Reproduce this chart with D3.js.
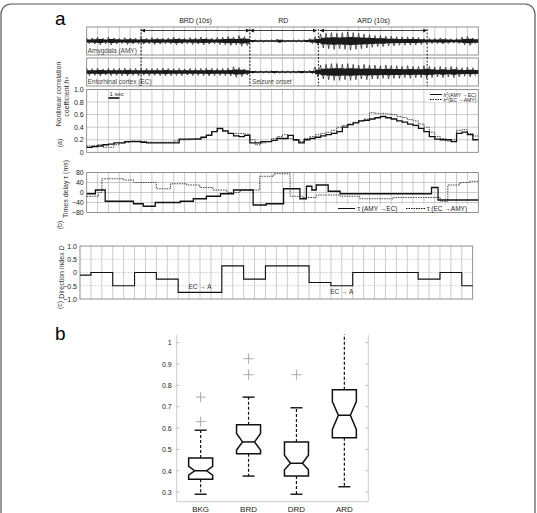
<!DOCTYPE html>
<html>
<head>
<meta charset="utf-8">
<script src="https://cdn.jsdelivr.net/npm/d3@7"></script>
<style>
body { margin: 0; background: #fff; }
svg { display: block; font-family: "Liberation Sans", Arial, sans-serif; }
</style>
</head>
<body>
<div id="chart"></div>
<script>
// ---- data (time in seconds, 0..36) ----
var duration = 36;
var eventTimes = [5, 15, 21.3, 31.3];
var phaseLabels = ["BRD (10s)", "RD", "ARD (10s)"];

// EEG envelope (half amplitude, fraction of trace half height), one value per 0.5 s
var ampAMY = [.2,.22,.28,.2,.28,.22,.18,.25,.22,.2,
  .22,.2,.25,.22,.2,.22,.28,.22,.2,.25,.22,.28,.22,.2,.25,.28,
  .32,.28,.38,.32,
  .1,.08,.08,.06,.08,.14,.08,.06,.08,.08,.1,.18,
  .3,.5,.55,.6,.55,.6,.65,.6,.55,.5,
  .45,.4,.4,.35,.35,.3,.3,.3,.28,.25,
  .18,.18,.18,.22,.18,.16,.18,.28,.32,.22];
var ampEC = [.26,.24,.28,.22,.26,.24,.26,.28,.24,.26,.22,.26,.24,.26,.28,.26,.24,.26,.22,.26,.24,.26,.28,.26,.24,.26,
  .28,.38,.32,.22,
  .1,.08,.08,.08,.1,.08,.08,.08,.08,.1,.08,.12,
  .35,.5,.55,.6,.6,.55,.6,.55,.5,.55,.5,.5,.45,.5,.45,.45,.4,.45,.4,.4,.45,.4,.35,.4,.35,.4,.35,.3,.35,.3];

// nonlinear correlation h2, one value per 0.5 s
var h2AmyEc = [.08,.09,.10,.12,.13,.15,.15,.17,.17,.17,.16,.15,.15,.15,.15,.15,.15,.21,.21,.21,
  .21,.24,.27,.33,.38,.34,.30,.26,.25,.27,.15,.15,.17,.17,.19,.22,.22,.27,.20,.15,
  .20,.22,.24,.26,.28,.30,.33,.40,.44,.47,.50,.51,.53,.55,.57,.55,.53,.50,.48,.45,
  .43,.38,.33,.25,.21,.20,.20,.17,.30,.32,.28,.20];
var h2EcAmy = [.10,.11,.12,.08,.08,.12,.15,.16,.18,.18,.17,.16,.16,.16,.16,.16,.18,.20,.20,.21,
  .22,.23,.28,.33,.37,.33,.30,.30,.30,.29,.20,.12,.15,.17,.22,.25,.28,.22,.19,.17,
  .22,.25,.28,.30,.32,.35,.40,.43,.45,.48,.50,.53,.63,.62,.62,.61,.60,.57,.55,.52,
  .50,.45,.40,.32,.25,.22,.18,.20,.35,.36,.30,.26];

// time delay tau (ms), [start time, value]
var tauAmyEc = [[0,-5],[0.8,10],[1.7,-35],[4.3,-45],[5.2,-55],[6.3,-40],[8.6,-35],[9.8,-25],
  [11,-15],[12.3,-5],[13.5,10],[15.3,-50],[16.5,-45],[18.1,15],[19.6,-25],[20.2,25],[20.7,10],
  [21.1,30],[22.2,5],[23.3,-5],[31.7,20],[32.3,-30]];
var tauEcAmy = [[0,-15],[1.1,0],[1.4,55],[3.4,50],[4.3,40],[6.4,15],[7.7,35],[9.2,30],[10.4,20],
  [11.6,10],[12.9,0],[14.1,10],[15.9,65],[17.2,75],[18.7,-15],[19.9,-20],[21.1,-10],[23.3,-15],
  [25.1,-25],[28.2,-20],[32.5,-35],[33.2,30],[34.3,40],[35.2,45]];

// direction index D, [start time, value]
var dirIndex = [[0,-0.1],[1,0],[3,-0.5],[5,0],[7,-0.25],[9,-0.75],[13,0.25],[15,-0.25],[17,0.25],
  [21,-0.375],[23,-0.5],[25,0],[31,-0.25],[33,0],[35,-0.5]];

// box plot (panel b)
var cats = ["BKG", "BRD", "DRD", "ARD"];
var q1 = [0.36, 0.48, 0.375, 0.555];
var med = [0.40, 0.535, 0.435, 0.66];
var q3 = [0.46, 0.615, 0.535, 0.78];
var notchLo = [0.38, 0.497, 0.405, 0.594];
var notchHi = [0.42, 0.575, 0.473, 0.724];
var whiskLo = [0.29, 0.375, 0.29, 0.325];
var whiskHi = [0.59, 0.745, 0.695, 1.04];
var outliers = [[0.63, 0.745], [0.85, 0.925], [0.85], []];
var boxTicks = [0.3, 0.4, 0.5, 0.6, 0.7, 0.8, 0.9, 1];

// ---- drawing ----
var svg = d3.select("#chart").append("svg").attr("width", 537).attr("height", 513);

svg.append("defs").append("marker")
  .attr("id", "ah").attr("viewBox", "0 0 10 10").attr("refX", 10).attr("refY", 5)
  .attr("markerWidth", 5).attr("markerHeight", 5).attr("orient", "auto-start-reverse")
  .append("path").attr("d", "M0,0L10,5L0,10z").attr("fill", "#111");

// outer frame
svg.append("rect").attr("x", 1).attr("y", 4).attr("width", 534).attr("height", 540)
  .attr("rx", 10).attr("fill", "none").attr("stroke", "#555").attr("stroke-width", 1.2);

svg.append("text").attr("x", 55).attr("y", 25).attr("font-size", 19).text("a");
svg.append("text").attr("x", 55).attr("y", 340).attr("font-size", 19).text("b");

var x = d3.scaleLinear().domain([0, duration]).range([86.7, 478.3]);
var xc = d3.scaleLinear().domain([0, duration]).range([80, 472.7]);
var secs = d3.range(1, duration);

function frame(xs, top, bottom, hLines, yS, dotted) {
  var g = svg.append("g");
  g.selectAll(".v").data(secs).enter().append("line")
    .attr("x1", xs).attr("x2", xs).attr("y1", top).attr("y2", bottom)
    .attr("stroke", "#aaa").attr("stroke-width", 0.6);
  g.selectAll(".h").data(hLines).enter().append("line")
    .attr("x1", xs.range()[0]).attr("x2", xs.range()[1])
    .attr("y1", yS).attr("y2", yS)
    .attr("stroke", "#aaa").attr("stroke-width", 0.6)
    .attr("stroke-dasharray", dotted ? "1.5,1.5" : null);
  g.append("rect").attr("x", xs.range()[0]).attr("y", top)
    .attr("width", xs.range()[1] - xs.range()[0]).attr("height", bottom - top)
    .attr("fill", "none").attr("stroke", "#777").attr("stroke-width", 0.8);
  return g;
}

function steps(pts) {
  return pts.concat([[duration, pts[pts.length - 1][1]]]);
}
function halfSec(arr) {
  return steps(arr.map(function(v, i) { return [i * 0.5, v]; }));
}

// EEG traces, drawn from their envelope
var traces = [
  {name: "Amygdala (AMY)", top: 27, bottom: 55, amp: ampAMY},
  {name: "Entorhinal cortex (EC)", top: 58, bottom: 86, amp: ampEC}
];
traces.forEach(function(tr) {
  frame(x, tr.top, tr.bottom, [], null, false);
  var mid = (tr.top + tr.bottom) / 2, half = (tr.bottom - tr.top) / 2;
  var yT = d3.scaleLinear().domain([-1, 1]).range([mid + half, mid - half]);
  var pts = halfSec(tr.amp);
  svg.append("path").datum(pts)
    .attr("d", d3.area().curve(d3.curveStepAfter)
      .x(function(d) { return x(d[0]); })
      .y0(function(d) { return yT(-d[1] * 0.4) + 0.4; })
      .y1(function(d) { return yT(d[1] * 0.4) - 0.4; }))
    .attr("fill", "#1a1a1a");
  var zig = [];
  tr.amp.forEach(function(a, i) {
    zig.push([i * 0.5, a]);
    zig.push([i * 0.5 + 0.25, -a]);
  });
  svg.append("path").datum(zig)
    .attr("d", d3.line().x(function(d) { return x(d[0]); }).y(function(d) { return yT(d[1]); }))
    .attr("fill", "none").attr("stroke", "#1a1a1a").attr("stroke-width", 0.7);
  svg.append("text").attr("x", x(0) + 1).attr("y", tr.bottom - 2)
    .attr("font-size", 6.5).attr("fill", "#444").text(tr.name);
});
svg.append("text").attr("x", x(15) + 2).attr("y", 84).attr("font-size", 6.5)
  .attr("font-style", "italic").attr("fill", "#444").text("Seizure onset");

// event markers and arrows
svg.selectAll(".ev").data(eventTimes).enter().append("line")
  .attr("x1", x).attr("x2", x).attr("y1", 29).attr("y2", 86)
  .attr("stroke", "#111").attr("stroke-width", 0.9).attr("stroke-dasharray", "2,1.5");
phaseLabels.forEach(function(lab, i) {
  var a = eventTimes[i] + (i === 2 ? 0.15 : 0), b = eventTimes[i + 1] - (i === 1 ? 0.15 : 0);
  svg.append("line").attr("x1", x(a)).attr("x2", x(b)).attr("y1", 30.5).attr("y2", 30.5)
    .attr("stroke", "#111").attr("stroke-width", 0.8)
    .attr("marker-start", "url(#ah)").attr("marker-end", "url(#ah)");
  svg.append("text").attr("x", x((a + b) / 2)).attr("y", 23).attr("text-anchor", "middle")
    .attr("font-size", 7).attr("fill", "#222").text(lab);
});

// panel (a): h2
var yH = d3.scaleLinear().domain([0, 1]).range([152.3, 89.5]);
frame(x, 89.5, 152.3, [0.2, 0.4, 0.6, 0.8], yH, false);
svg.append("g").attr("transform", "translate(" + x(0) + ",0)")
  .call(d3.axisLeft(yH).tickValues([0, 0.2, 0.4, 0.6, 0.8, 1])
    .tickFormat(function(d) { return d === 0 ? "0" : d3.format(".1f")(d); })
    .tickSize(0).tickPadding(3))
  .call(function(g) { g.select(".domain").remove(); })
  .selectAll("text").attr("font-size", 7).attr("fill", "#222");

var stepLine = function(xs, ys) {
  return d3.line().curve(d3.curveStepAfter)
    .x(function(d) { return xs(d[0]); }).y(function(d) { return ys(d[1]); });
};
svg.append("path").datum(halfSec(h2EcAmy)).attr("d", stepLine(x, yH))
  .attr("fill", "none").attr("stroke", "#333").attr("stroke-width", 0.9).attr("stroke-dasharray", "1.5,1");
svg.append("path").datum(halfSec(h2AmyEc)).attr("d", stepLine(x, yH))
  .attr("fill", "none").attr("stroke", "#111").attr("stroke-width", 1.3);

// 1 sec scale bar
svg.append("line").attr("x1", x(2)).attr("x2", x(3)).attr("y1", 98).attr("y2", 98)
  .attr("stroke", "#111").attr("stroke-width", 1.6);
svg.append("text").attr("x", x(2) + 1).attr("y", 96).attr("font-size", 6).attr("fill", "#333").text("1 sec");

// legend (a)
svg.append("rect").attr("x", 428).attr("y", 91).attr("width", 49).attr("height", 11).attr("fill", "#fff");
var legA = [["AMY", "EC", null], ["EC", "AMY", "1.5,1"]];
legA.forEach(function(l, i) {
  var yy = 94.5 + i * 5;
  svg.append("line").attr("x1", 430).attr("x2", 442).attr("y1", yy).attr("y2", yy)
    .attr("stroke", "#111").attr("stroke-width", 1).attr("stroke-dasharray", l[2]);
  var t = svg.append("text").attr("x", 443.5).attr("y", yy + 2)
    .attr("font-size", 6).attr("fill", "#222")
    .attr("textLength", 33).attr("lengthAdjust", "spacingAndGlyphs");
  t.append("tspan").attr("font-style", "italic").text("h");
  t.append("tspan").attr("font-size", 4).attr("dy", -2).text("2");
  t.append("tspan").attr("dy", 2).text("(" + l[0] + " \u2192" + l[1] + ")");
});

// panel (b): tau
var yT = d3.scaleLinear().domain([-80, 80]).range([212.5, 172.5]);
frame(x, 172.5, 212.5, [-40, 0, 40], yT, false);
svg.append("g").attr("transform", "translate(" + x(0) + ",0)")
  .call(d3.axisLeft(yT).tickValues([-80, -40, 0, 40, 80]).tickSize(0).tickPadding(3))
  .call(function(g) { g.select(".domain").remove(); })
  .selectAll("text").attr("font-size", 7).attr("fill", "#222");
svg.append("path").datum(steps(tauEcAmy)).attr("d", stepLine(x, yT))
  .attr("fill", "none").attr("stroke", "#333").attr("stroke-width", 0.9).attr("stroke-dasharray", "1.5,1");
svg.append("path").datum(steps(tauAmyEc)).attr("d", stepLine(x, yT))
  .attr("fill", "none").attr("stroke", "#111").attr("stroke-width", 1.3);

// legend (b)
svg.append("rect").attr("x", 336).attr("y", 204.5).attr("width", 141.5).attr("height", 7.5).attr("fill", "#fff");
[[338, 355, null, "AMY", "EC", 357.5], [406, 426, "1.5,1", "EC", "AMY", 427]].forEach(function(l) {
  svg.append("line").attr("x1", l[0]).attr("x2", l[1]).attr("y1", 208.5).attr("y2", 208.5)
    .attr("stroke", "#111").attr("stroke-width", 1).attr("stroke-dasharray", l[2]);
  svg.append("text").attr("x", l[5]).attr("y", 211).attr("font-size", 6.5).attr("fill", "#222")
    .text("\u03c4 (" + l[3] + " \u2192" + l[4] + ")");
});

// panel (c): direction index
var yD = d3.scaleLinear().domain([-1, 1]).range([299, 246]);
frame(xc, 246, 299, [-0.5, 0, 0.5], yD, true);
svg.append("g").attr("transform", "translate(" + xc(0) + ",0)")
  .call(d3.axisLeft(yD).tickValues([-1, -0.5, 0, 0.5, 1])
    .tickFormat(function(d) { return d === 0 ? "0" : d3.format(".1f")(d); })
    .tickSize(0).tickPadding(3))
  .call(function(g) { g.select(".domain").remove(); })
  .selectAll("text").attr("font-size", 7).attr("fill", "#222");
svg.append("path").datum(steps(dirIndex)).attr("d", stepLine(xc, yD))
  .attr("fill", "none").attr("stroke", "#111").attr("stroke-width", 1.1);
[[11, -0.55], [24, -0.75]].forEach(function(p) {
  svg.append("text").attr("x", xc(p[0])).attr("y", yD(p[1]) + 2).attr("text-anchor", "middle")
    .attr("font-size", 6.5).attr("fill", "#333").text("EC \u2192 A");
});

// rotated axis titles
function vText(xp, yp, size, parts) {
  var t = svg.append("text").attr("transform", "translate(" + xp + "," + yp + ") rotate(-90)")
    .attr("text-anchor", "middle").attr("font-size", size).attr("fill", "#333");
  parts.forEach(function(p) {
    var s = t.append("tspan").text(p[0]);
    if (p[1]) s.attr("font-style", "italic");
  });
}
vText(61, 94, 7, [["Nonlinear correlation"]]);
vText(69, 97, 7, [["coefficient "], ["h\u00b2", true]]);
vText(62, 143, 7, [["(a)"]]);
vText(68, 189, 7, [["Times delay \u03c4 (ms)"]]);
vText(62, 225, 7, [["(b)"]]);
vText(64, 272, 7, [["Direction index "], ["D", true]]);
vText(62, 305, 7, [["(c)"]]);

// box plot
var xb = d3.scaleLinear().domain([0.5, 4.5]).range([176.7, 368.3]);
var yb = d3.scaleLinear().domain([0.255, 1.036]).range([501.7, 335]);
var gb = svg.append("g");
[[176.7, 335, 176.7, 501.7], [368.3, 335, 368.3, 501.7], [176.7, 501.7, 368.3, 501.7]].forEach(function(l) {
  gb.append("line").attr("x1", l[0]).attr("y1", l[1]).attr("x2", l[2]).attr("y2", l[3])
    .attr("stroke", "#ccc").attr("stroke-width", 1);
});
gb.selectAll(".tl").data(boxTicks).enter().append("line")
  .attr("x1", 176.7).attr("x2", 179.5).attr("y1", yb).attr("y2", yb).attr("stroke", "#bbb");
gb.selectAll(".tr").data(boxTicks).enter().append("line")
  .attr("x1", 365.5).attr("x2", 368.3).attr("y1", yb).attr("y2", yb).attr("stroke", "#bbb");
gb.append("g").attr("transform", "translate(176.7,0)")
  .call(d3.axisLeft(yb).tickValues(boxTicks).tickFormat(d3.format("~g")).tickSize(0).tickPadding(5))
  .call(function(g) { g.select(".domain").remove(); })
  .selectAll("text").attr("font-size", 7).attr("fill", "#222");
gb.selectAll(".cat").data(cats).enter().append("text")
  .attr("x", function(d, i) { return xb(i + 1); }).attr("y", 512)
  .attr("text-anchor", "middle").attr("font-size", 8).attr("fill", "#222").text(function(d) { return d; });

var bw = 12, inset = 6, cap = 6;
cats.forEach(function(c, i) {
  var cx = xb(i + 1), l = cx - bw, r = cx + bw;
  [[q3[i], whiskHi[i]], [q1[i], whiskLo[i]]].forEach(function(w) {
    gb.append("line").attr("x1", cx).attr("x2", cx).attr("y1", yb(w[0])).attr("y2", yb(w[1]))
      .attr("stroke", "#111").attr("stroke-width", 1.2).attr("stroke-dasharray", "3,2");
    if (w[1] < 1)
      gb.append("line").attr("x1", cx - cap).attr("x2", cx + cap).attr("y1", yb(w[1])).attr("y2", yb(w[1]))
        .attr("stroke", "#111").attr("stroke-width", 1.4);
  });
  var pts = [[l, q3[i]], [r, q3[i]], [r, notchHi[i]], [r - inset, med[i]], [r, notchLo[i]], [r, q1[i]],
    [l, q1[i]], [l, notchLo[i]], [l + inset, med[i]], [l, notchHi[i]]];
  gb.append("path").attr("d", "M" + pts.map(function(p) { return p[0] + "," + yb(p[1]); }).join("L") + "Z")
    .attr("fill", "#fff").attr("stroke", "#111").attr("stroke-width", 1.5);
  gb.append("line").attr("x1", l + inset).attr("x2", r - inset).attr("y1", yb(med[i])).attr("y2", yb(med[i]))
    .attr("stroke", "#111").attr("stroke-width", 1.5);
  outliers[i].forEach(function(o) {
    gb.append("path").attr("d", "M" + (cx - 5) + "," + yb(o) + "h10M" + cx + "," + (yb(o) - 5) + "v10")
      .attr("stroke", "#aaa").attr("stroke-width", 1);
  });
});
</script>
</body>
</html>
